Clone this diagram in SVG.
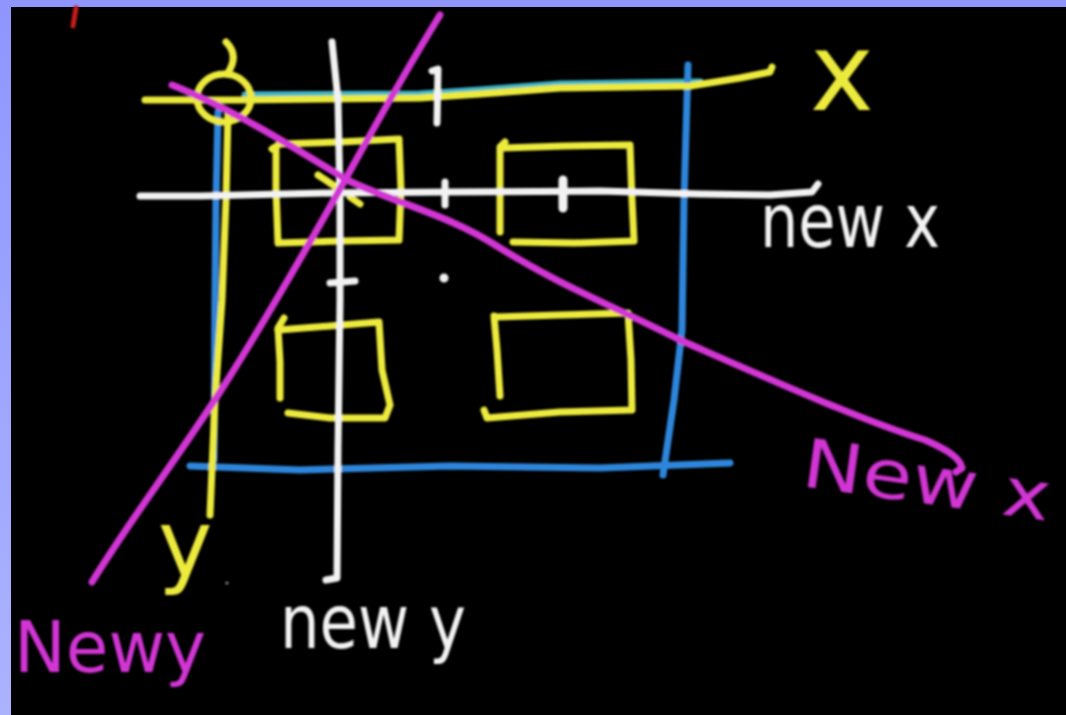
<svg xmlns="http://www.w3.org/2000/svg" width="1066" height="715" viewBox="0 0 1066 715">
  <defs>
    <linearGradient id="frame" x1="0" y1="0" x2="0" y2="1">
      <stop offset="0" stop-color="#8e96fe"/>
      <stop offset="1" stop-color="#abb3ff"/>
    </linearGradient>
    <filter id="soft" x="-5%" y="-5%" width="110%" height="110%">
      <feGaussianBlur stdDeviation="0.9"/>
    </filter>
  </defs>
  <style>
    .ink { fill: none; stroke-linecap: round; stroke-linejoin: round; stroke-width: 7; }
    .yel { stroke: #ecea3c; }
    .wht { stroke: #f2f2f2; }
    .mag { stroke: #d236d4; }
    .blu { stroke: #2f86dc; }
    .hand { font-family: "DejaVu Sans", "Liberation Sans", sans-serif; }
  </style>

  <!-- frame and board -->
  <rect x="0" y="0" width="1066" height="715" fill="url(#frame)"/>
  <rect x="11" y="7" width="1055" height="708" fill="#000"/>

  <g filter="url(#soft)">
    <!-- blue outer rectangle (top edge sits just under the yellow x axis) -->
    <g id="blue-frame" class="ink blu">
      <path d="M 245,95 L 420,94 L 480,90 L 560,84 L 700,82" stroke="#3fb6c8"/>
      <path d="M 218,112 L 216,200 L 215,300 L 214,460"/>
      <path d="M 688,65 L 684,200 L 682,330 L 674,400 L 663,475"/>
      <path d="M 190,466 L 300,470 L 450,466 L 600,468 L 730,463"/>
    </g>

    <!-- original axes (yellow) -->
    <g id="axis-x" class="ink yel">
      <path d="M 145,100 L 240,100 L 420,98 L 480,94 L 560,88 L 690,86 L 740,78 L 770,72 L 772,67"/>
    </g>
    <g id="axis-y" class="ink yel">
      <path d="M 228,112 L 226,200 L 222,300 L 215,400 L 210,515"/>
      <path d="M 226,42 Q 240,56 227,74"/>
      <ellipse cx="224" cy="98" rx="27" ry="24"/>
    </g>

    <!-- yellow boxes -->
    <g id="box-top-left" class="ink yel">
      <path d="M 272,149 L 280,144 L 340,142 L 399,139 L 401,190 L 399,240 L 340,241 L 278,243 L 276,190 L 276,150"/>
      <path d="M 318,175 L 336,187 M 350,197 L 360,204"/>
    </g>
    <g id="box-top-right" class="ink yel">
      <path d="M 505,142 L 500,147 L 500,232"/>
      <path d="M 503,148 L 565,146 L 630,145 L 632,200 L 634,241 L 575,243 L 513,242"/>
    </g>
    <g id="box-bottom-left" class="ink yel">
      <path d="M 284,318 L 278,328 L 280,362 L 280,398"/>
      <path d="M 278,330 L 330,326 L 379,322 L 382,370 L 390,405 L 385,418 L 330,418 L 288,413"/>
    </g>
    <g id="box-bottom-right" class="ink yel">
      <path d="M 494,316 L 497,350 L 500,396"/>
      <path d="M 496,317 L 560,315 L 628,313 L 631,360 L 632,410 L 560,412 L 487,418 L 484,410"/>
    </g>

    <!-- new axes (white) -->
    <g id="axis-new-x" class="ink wht">
      <path d="M 140,196 L 200,196 L 330,193 L 450,192 L 600,191 L 700,194 L 770,195 L 812,192 L 818,184"/>
      <path d="M 445,182 L 445,205"/>
      <path d="M 563,180 L 563,208" stroke-width="9"/>
    </g>
    <g id="axis-new-y" class="ink wht">
      <path d="M 332,42 L 338,100 L 340,200 L 340,300 L 338,450 L 337,578 L 326,580"/>
      <path d="M 330,283 L 355,281"/>
      <path d="M 432,71 L 438,69 L 437,123"/>
      <circle cx="444" cy="278" r="4.5" fill="#f2f2f2" stroke="none"/>
    </g>

    <!-- rotated axes (magenta) -->
    <g id="axis-rot-y" class="ink mag">
      <path d="M 440,15 C 400,80 370,135 345,180 S 260,330 218,395 S 130,520 92,582"/>
    </g>
    <g id="axis-rot-x" class="ink mag">
      <path d="M 172,85 C 230,108 290,145 347,180 C 400,205 450,215 500,248 C 560,285 600,300 680,340 C 760,375 860,420 925,440 C 948,450 960,458 962,468 L 956,472"/>
    </g>

    <!-- stray marks -->
    <path d="M 76,8 L 73,26" fill="none" stroke="#c41a1a" stroke-width="5" stroke-linecap="round"/>
    <circle cx="227" cy="583" r="1.6" fill="#888"/>

    <!-- labels -->
    <g id="labels" class="hand">
      <text x="810" y="110" font-size="108" fill="#ecea3c">x</text>
      <text x="760" y="247" font-size="74" fill="#f2f2f2" textLength="180" lengthAdjust="spacingAndGlyphs">new x</text>
      <text x="800" y="486" font-size="68" fill="#d236d4" textLength="250" lengthAdjust="spacingAndGlyphs" transform="rotate(8 800 486)">New x</text>
      <text x="158" y="576" font-size="92" fill="#ecea3c">y</text>
      <text x="14" y="672" font-size="72" fill="#d236d4" textLength="192" lengthAdjust="spacingAndGlyphs">Newy</text>
      <text x="280" y="648" font-size="74" fill="#f2f2f2" textLength="186" lengthAdjust="spacingAndGlyphs">new y</text>
    </g>
  </g>
</svg>
